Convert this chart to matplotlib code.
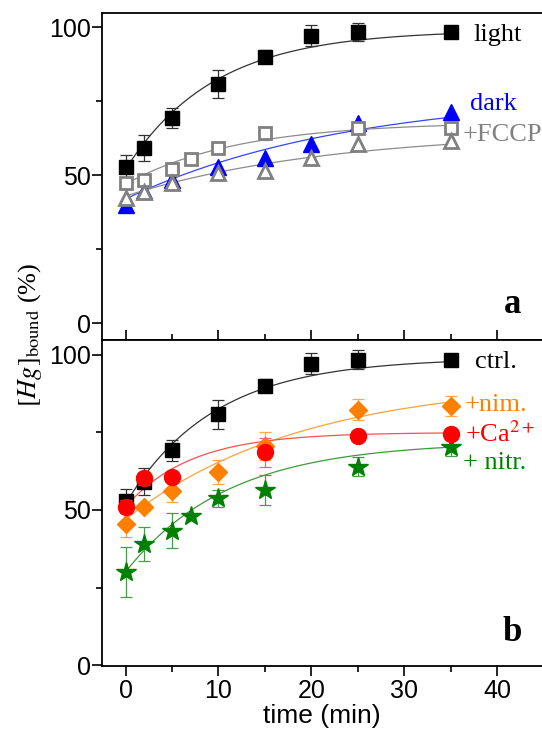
import numpy as np
import matplotlib.pyplot as plt
from matplotlib.ticker import MultipleLocator

plt.rcParams['font.family'] = ['Liberation Sans', 'DejaVu Sans']
plt.rcParams['mathtext.fontset'] = 'stix'

# --- panel a: light / dark / +FCCP ---
t_light = [0, 2, 5, 10, 15, 20, 25, 35]
hg_light = [52.9, 59.1, 69.3, 80.8, 90.1, 97.2, 98.5, 98.5]
err_light = [3.9, 4.4, 3.4, 4.8, 2.2, 3.4, 3.0, 0.5]

t_dark = [0, 2, 5, 10, 15, 20, 25, 35]
hg_dark = [40.0, 44.8, 48.5, 52.9, 55.7, 60.6, 67.6, 71.5]

t_fccp_sq = [0, 2, 5, 7, 10, 15, 25, 35]
hg_fccp_sq = [47.5, 48.4, 52.0, 55.4, 59.1, 64.2, 65.9, 66.1]
err_fccp_sq = [1.5, 1.5, 1.5, 1.5, 1.2, 2.2, 1.2, 1.0]

t_fccp_tri = [0, 2, 5, 10, 15, 20, 25, 35]
hg_fccp_tri = [42.2, 44.5, 47.3, 50.7, 51.6, 55.7, 60.6, 61.7]

# --- panel b: ctrl / +nim. / +Ca2+ / + nitr. (ctrl = light) ---
t_nim = [0, 2, 5, 10, 15, 25, 35]
hg_nim = [45.5, 51.1, 56.1, 62.2, 70.6, 82.3, 83.5]
err_nim = [4.3, 1.0, 3.4, 3.8, 4.6, 3.4, 3.2]

t_ca = [0, 2, 5, 15, 25, 35]
hg_ca = [51.1, 60.2, 60.7, 68.6, 73.7, 74.4]
err_ca = [2.0, 2.0, 1.0, 4.7, 1.0, 1.0]

t_nitr = [0, 2, 5, 7, 10, 15, 25, 35]
hg_nitr = [29.9, 38.9, 43.3, 48.2, 53.8, 56.5, 64.0, 70.2]
err_nitr = [8.1, 5.5, 5.6, 0.0, 2.7, 4.8, 3.2, 2.7]

# single exponential fits: y = A - B*exp(-t/tau)
fit_light = (99, 47, 9.5)
fit_dark = (78, 36, 24)
fit_fccp_sq = (68, 21, 12)
fit_fccp_tri = (65, 22, 22)
fit_nim = (92, 45, 19)
fit_ca = (75, 24, 7)
fit_nitr = (72, 42, 11)


def expfit(t, p):
    a, b, tau = p
    return a - b * np.exp(-t / tau)


tt = np.linspace(0, 35, 200)
serif = ['Liberation Serif', 'DejaVu Serif']

fig = plt.figure(figsize=(5.42, 7.31), dpi=100)
ax1 = fig.add_axes([0.1887, 0.5349, 0.8113, 0.4469])
ax2 = fig.add_axes([0.1887, 0.0889, 0.8113, 0.446])

# panel a
ax1.plot(tt, expfit(tt, fit_light), color='#333333', lw=0.9, zorder=2)
ax1.plot(tt, expfit(tt, fit_dark), color='#3344ff', lw=0.9, zorder=2)
ax1.plot(tt, expfit(tt, fit_fccp_sq), color='#8c8c8c', lw=0.9, zorder=2)
ax1.plot(tt, expfit(tt, fit_fccp_tri), color='#8c8c8c', lw=0.9, zorder=2)

ax1.errorbar(t_light, hg_light, yerr=err_light, fmt='none', ecolor='#333333',
             elinewidth=0.9, capsize=4.5, capthick=0.9, zorder=3)
ax1.plot(t_light, hg_light, 's', color='black', ms=10.5, zorder=4)
ax1.plot(t_dark, hg_dark, '^', color='#0000ff', ms=12, zorder=4)
ax1.errorbar(t_fccp_sq, hg_fccp_sq, yerr=err_fccp_sq, fmt='none', ecolor='#8c8c8c',
             elinewidth=0.9, capsize=3, capthick=0.9, zorder=5)
ax1.plot(t_fccp_sq, hg_fccp_sq, 's', mfc='white', mec='#808080', mew=2,
         ms=9, zorder=5)
ax1.plot(t_fccp_tri, hg_fccp_tri, '^', mfc='white', mec='#808080', mew=2,
         ms=10.5, zorder=5)

ax1.text(37.4, 97.3, 'light', family=serif, fontsize=19, va='center')
ax1.text(37.1, 74.2, 'dark', family=serif, fontsize=19, va='center', color='#0000ff')
ax1.text(36.3, 63.5, '+FCCP', family=serif, fontsize=19, va='center', color='#808080')
ax1.text(41.6, 6.5, 'a', family=serif, fontsize=25, fontweight='bold',
         ha='center', va='center')

# panel b
ax2.plot(tt, expfit(tt, fit_light), color='#333333', lw=0.9, zorder=2)
ax2.plot(tt, expfit(tt, fit_nim), color='#ffa040', lw=0.9, zorder=2)
ax2.plot(tt, expfit(tt, fit_ca), color='#ff5050', lw=0.9, zorder=2)
ax2.plot(tt, expfit(tt, fit_nitr), color='#3c9a3c', lw=0.9, zorder=2)

ax2.errorbar(t_light, hg_light, yerr=err_light, fmt='none', ecolor='#333333',
             elinewidth=0.9, capsize=4.5, capthick=0.9, zorder=3)
ax2.plot(t_light, hg_light, 's', color='black', ms=10.5, zorder=4)
ax2.errorbar(t_nim, hg_nim, yerr=err_nim, fmt='none', ecolor='#ffa64d',
             elinewidth=0.9, capsize=4.5, capthick=0.9, zorder=3)
ax2.plot(t_nim, hg_nim, 'D', color='#ff8000', ms=9.5, zorder=4)
ax2.errorbar(t_nitr, hg_nitr, yerr=err_nitr, fmt='none', ecolor='#4a9a4a',
             elinewidth=0.9, capsize=4.5, capthick=0.9, zorder=3)
ax2.plot(t_nitr, hg_nitr, '*', color='#008000', ms=14.5, zorder=4)
ax2.errorbar(t_ca, hg_ca, yerr=err_ca, fmt='none', ecolor='#ff6060',
             elinewidth=0.9, capsize=4.5, capthick=0.9, zorder=5)
ax2.plot(t_ca, hg_ca, 'o', color='#ff0000', ms=11.5, zorder=5)

ax2.text(37.6, 97.8, 'ctrl.', family=serif, fontsize=19, va='center')
ax2.text(36.5, 84.0, '+nim.', family=serif, fontsize=19, va='center', color='#ff8000')
ax2.text(36.5, 74.4, '+Ca$^{2+}$', family=serif, fontsize=19, va='center', color='#ff0000')
ax2.text(36.3, 65.3, '+ nitr.', family=serif, fontsize=19, va='center', color='#008000')
ax2.text(41.6, 10.5, 'b', family=serif, fontsize=25, fontweight='bold',
         ha='center', va='center')

for ax in (ax1, ax2):
    ax.set_xlim(-2.5, 44.8)
    ax.xaxis.set_major_locator(MultipleLocator(10))
    ax.xaxis.set_minor_locator(MultipleLocator(5))
    ax.yaxis.set_major_locator(MultipleLocator(50))
    ax.yaxis.set_minor_locator(MultipleLocator(25))
    ax.spines['right'].set_visible(False)
    for s in ('left', 'top', 'bottom'):
        ax.spines[s].set_linewidth(1.3)
    ax.tick_params(axis='y', which='major', direction='out', length=7, width=1.2,
                   labelsize=18, pad=1)
    ax.tick_params(axis='y', which='minor', direction='out', length=4.5, width=1.2)

ax1.set_ylim(-5.6, 104.7)
ax2.set_ylim(-0.3, 104.8)

ax1.tick_params(axis='x', which='major', direction='in', length=7, width=1.2,
                labelbottom=False)
ax1.tick_params(axis='x', which='minor', direction='in', length=4, width=1.2)
ax2.tick_params(axis='x', which='major', direction='out', length=7, width=1.2,
                labelsize=18, pad=2)
ax2.tick_params(axis='x', which='minor', direction='out', length=4, width=1.2)

ax2.set_xlabel('time (min)', fontsize=19, labelpad=1)
fig.text(0.055, 0.5417, r'$[Hg]_{\mathrm{bound}}$ (%)', family=serif, fontsize=19,
         rotation=90, ha='center', va='center')

fig.savefig('out.png', dpi=100)
